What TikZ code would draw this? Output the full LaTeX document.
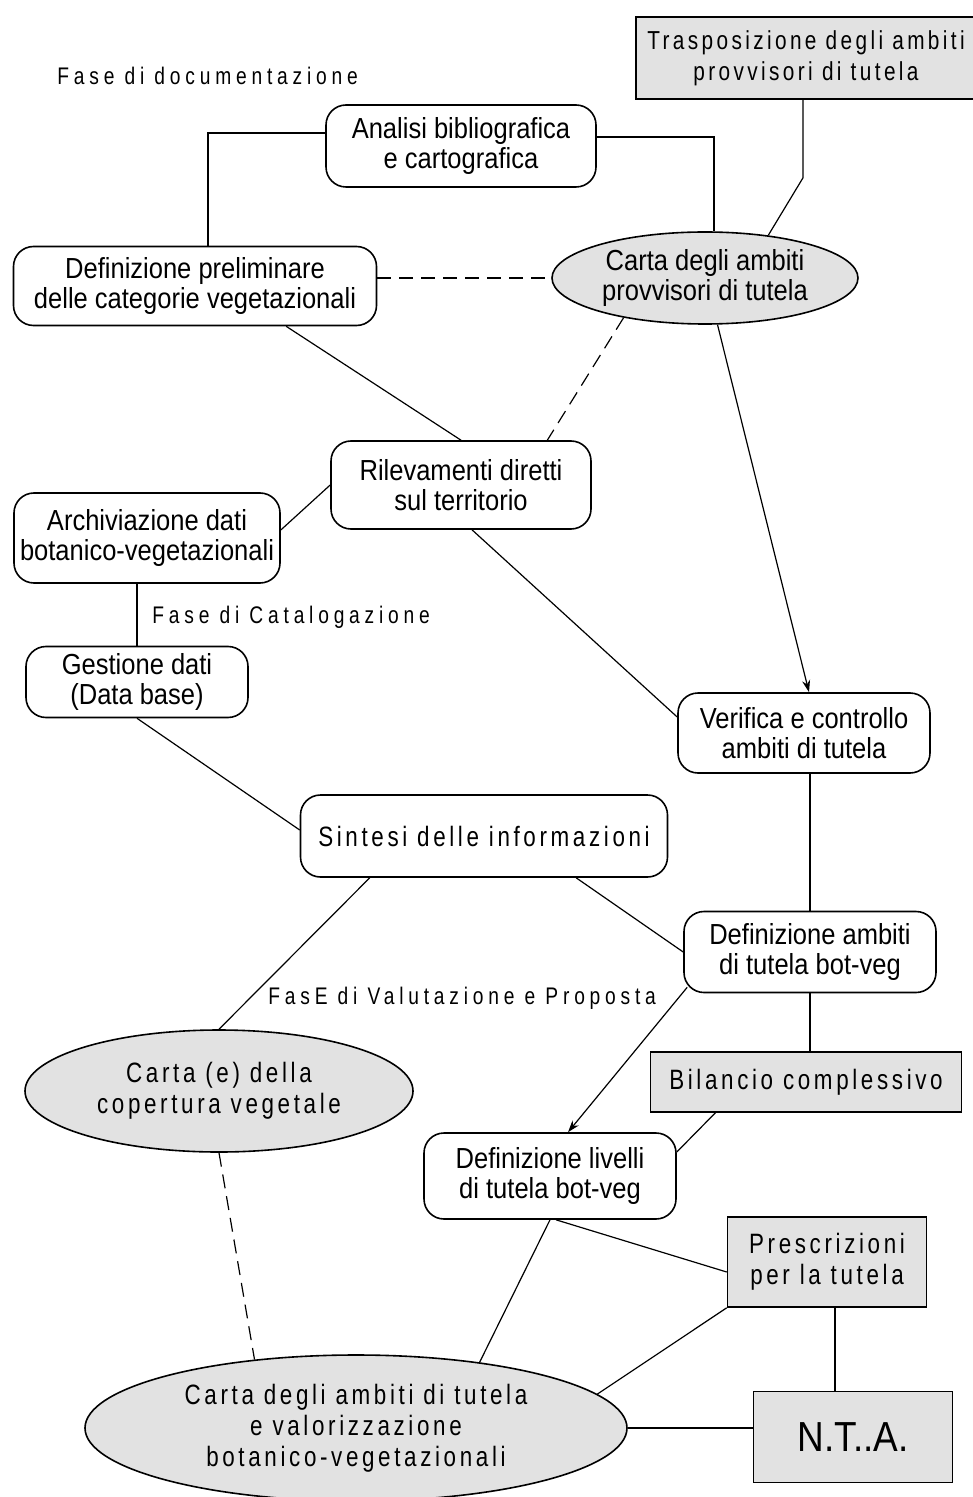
\documentclass[tikz,border=0pt]{standalone}
\usepackage{fontspec}
\setmainfont[FakeStretch=0.88]{Liberation Sans}
\newfontfamily\spacedfont[FakeStretch=0.8,LetterSpace=13]{Liberation Sans}
\newfontfamily\fasefont[FakeStretch=0.8,LetterSpace=20]{Liberation Sans}
\usetikzlibrary{shapes.geometric,calc,arrows.meta}
\definecolor{lightgr}{RGB}{226,226,226}
\newcommand{\boxsz}{\fontsize{14.5}{15}\selectfont}
\newcommand{\spsz}{\spacedfont\fontsize{14}{15.5}\selectfont}
\tikzset{
	rbox/.style={draw, line width=0.8pt, rounded corners=10pt, align=center, inner sep=0pt, font=\boxsz},
	gbox/.style={draw, line width=0.8pt, fill=lightgr, align=center, inner sep=0pt, font=\spsz},
	gell/.style={draw, line width=0.8pt, ellipse, fill=lightgr, align=center, inner sep=0pt},
	fase/.style={anchor=west, inner sep=0pt, font=\fasefont\fontsize{12}{14}\selectfont},
	conn/.style={line width=0.6pt},
	dashline/.style={line width=0.6pt, dash pattern=on 7pt off 4pt}
}
\begin{document}
\begin{tikzpicture}[x=0.5pt, y=-0.5pt]
		\useasboundingbox (0,0) rectangle (973,1497);
		\node[gbox, minimum width=170pt, minimum height=41pt, font=\spacedfont\fontsize{13}{15.5}\selectfont] (tras) at (806,58) {Trasposizione degli ambiti\\provvisori di tutela};
		\node[fase] (fdoc) at (57,76) {Fase di documentazione};
		\node[rbox, minimum width=135pt, minimum height=41pt] (ana) at (461,146) {Analisi bibliografica\\e cartografica};
		\node[rbox, minimum width=181.5pt, minimum height=39.5pt] (defp) at (195,286) {Definizione preliminare\\delle categorie vegetazionali};
		\node[gell, minimum width=153pt, minimum height=46pt, font=\boxsz] (cprov) at (705,278) {Carta degli ambiti\\provvisori di tutela};
		\node[rbox, minimum width=130pt, minimum height=44pt] (rilev) at (461,485) {Rilevamenti diretti\\sul territorio};
		\node[rbox, minimum width=133pt, minimum height=45pt] (archiv) at (147,538) {Archiviazione dati\\botanico-vegetazionali};
		\node[fase] (fcat) at (152,617) {Fase di Catalogazione};
		\node[rbox, minimum width=111pt, minimum height=35.5pt] (gest) at (137,682) {Gestione dati\\(Data base)};
		\node[rbox, minimum width=126pt, minimum height=40pt] (verif) at (804,733) {Verifica e controllo\\ambiti di tutela};
		\node[rbox, minimum width=183.5pt, minimum height=41pt, font=\spsz] (sint) at (484,836) {Sintesi delle informazioni};
		\node[rbox, minimum width=126pt, minimum height=40.5pt] (defamb) at (810,952) {Definizione ambiti\\di tutela bot-veg};
		\node[fase] (fval) at (268,998) {FasE di Valutazione e Proposta};
		\node[gbox, minimum width=155.5pt, minimum height=30pt] (bilan) at (806,1082) {Bilancio complessivo};
		\node[gell, minimum width=194pt, minimum height=61pt, font=\spsz] (carte) at (219,1091) {Carta (e) della\\copertura vegetale};
		\node[rbox, minimum width=126pt, minimum height=43pt] (deflivl) at (550,1176) {Definizione livelli\\di tutela bot-veg};
		\node[gbox, minimum width=99.5pt, minimum height=45pt] (presc) at (827,1262) {Prescrizioni\\per la tutela};
		\node[gell, minimum width=271pt, minimum height=73pt, font=\spsz] (cambiti) at (356,1428) {Carta degli ambiti di tutela\\e valorizzazione\\botanico-vegetazionali};
		\node[gbox, minimum width=99.5pt, minimum height=45.5pt, font=\fontsize{21}{24}\selectfont] (nta) at (853,1437) {N.T..A.};

		\draw[conn] ($(ana.west)+(0,-13)$) -| ($(defp.north)+(13,0)$);
		\draw[conn] ($(ana.east)+(0,-9)$) -| ($(cprov.north)+(9,0)$);
		\draw[conn] ($(tras.south)+(-3,0)$) -- ++(0,78) -- (cprov.34);
		\draw[dashline] (defp.east |- cprov.west) -- (cprov.west);
		\draw[conn] ($(defp.south west)!0.75!(defp.south east)$) -- (rilev.north);
		\draw[dashline] (cprov.206) -- ($(rilev.north west)!0.83!(rilev.north east)$);
		\draw[conn, -{Stealth[length=6pt, width=4pt]}] (cprov.285) -- ($(verif.north)+(5,0)$);
		\draw[conn] ($(archiv.east)+(0,-8)$) -- (rilev.west);
		\draw[conn] (gest.north |- archiv.south) -- (gest.north);
		\draw[conn] ($(rilev.south)+(11,0)$) -- ($(verif.west)+(0,-16)$);
		\draw[conn] (gest.south) -- ($(sint.west)+(0,-6)$);
		\draw[conn] (verif.south -| defamb.north) -- (defamb.north);
		\draw[conn] ($(sint.south west)!0.75!(sint.south east)$) -- (defamb.west);
		\draw[conn] ($(sint.south west)!0.19!(sint.south east)$) -- (carte.north);
		\draw[conn, -{Stealth[length=6pt, width=4pt]}] ($(defamb.south west)+(4,-6)$) -- ($(deflivl.north)+(18,0)$);
		\draw[conn] (defamb.south) -- (defamb.south |- bilan.north);
		\draw[conn] ($(bilan.south west)!0.21!(bilan.south east)$) -- ($(deflivl.east)+(0,-24)$);
		\draw[dashline] (carte.south) -- (cambiti.146);
		\draw[conn] (deflivl.south) -- (cambiti.28);
		\draw[conn] ($(deflivl.south)+(6,0)$) -- ($(presc.west)+(0,10)$);
		\draw[conn] (presc.south west) -- (cambiti.8);
		\draw[conn] ($(presc.south)+(8,0)$) -- ($(nta.north)+(-18,0)$);
		\draw[conn] (cambiti.east) -- (cambiti.east -| nta.west);
	\end{tikzpicture}
\end{document}
